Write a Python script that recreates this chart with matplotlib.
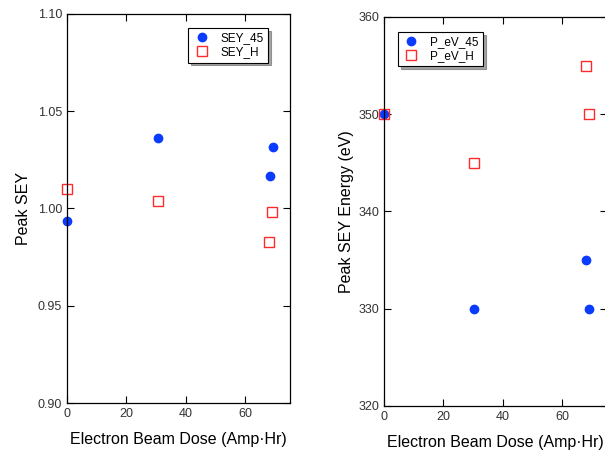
import matplotlib
matplotlib.use('Agg')
import matplotlib.pyplot as plt

plt.rcParams['font.family'] = ['Liberation Sans', 'DejaVu Sans']

# left panel: peak SEY
dose_45 = [0, 30.5, 68.2, 69.2]
sey_45 = [0.9936, 1.0365, 1.0166, 1.0315]
dose_h = [0, 30.5, 68.0, 69.0]
sey_h = [1.0098, 1.0041, 0.9830, 0.9981]

# right panel: peak SEY energy
pev_dose_45 = [0, 30.4, 68.1, 69.1]
pev_45 = [350, 330, 335, 330]
pev_dose_h = [0, 30.4, 68.0, 69.1]
pev_h = [350, 345, 355, 350]

blue = '#0a3cff'
red = '#ff2a2a'

fig = plt.figure(figsize=(6.05, 4.51), dpi=100)
W, H = 605, 451
ax1 = fig.add_axes([67 / W, (H - 403) / H, 223 / W, 389 / H])
ax2 = fig.add_axes([384 / W, (H - 406) / H, 222.5 / W, 389 / H])


def style(ax):
    ax.tick_params(direction='in', top=True, right=True, length=5,
                   labelsize=9, labelcolor='#333333', width=0.8)
    for s in ax.spines.values():
        s.set_linewidth(0.9)
    ax.set_xlabel('Electron Beam Dose (Amp·Hr)', fontsize=11.5, labelpad=9)


ax1.plot(dose_45, sey_45, 'o', color=blue, ms=6, label='SEY_45', clip_on=False)
ax1.plot(dose_h, sey_h, 's', mfc='white', mec=red, mew=1, ms=7, label='SEY_H', clip_on=False)
ax1.set_xlim(0, 75)
ax1.set_ylim(0.90, 1.10)
ax1.set_xticks([0, 20, 40, 60])
ax1.set_yticks([0.90, 0.95, 1.00, 1.05, 1.10])
ax1.set_yticklabels(['0.90', '0.95', '1.00', '1.05', '1.10'])
ax1.set_ylabel('Peak SEY', fontsize=11.5, labelpad=5)
style(ax1)
leg = ax1.legend(loc='upper right', bbox_to_anchor=(0.928, 0.979), fontsize=8.5,
                 fancybox=False, shadow=True, edgecolor='black', framealpha=1,
                 handletextpad=0.8, borderpad=0.35, labelspacing=0.2, handlelength=1.6)
leg.get_frame().set_linewidth(0.8)

ax2.plot(pev_dose_45, pev_45, 'o', color=blue, ms=6, label='P_eV_45', clip_on=False)
ax2.plot(pev_dose_h, pev_h, 's', mfc='none', mec=red, mew=1, ms=7, label='P_eV_H', clip_on=False)
ax2.set_xlim(0, 75)
ax2.set_ylim(320, 360)
ax2.set_xticks([0, 20, 40, 60])
ax2.set_yticks([320, 330, 340, 350, 360])
ax2.set_ylabel('Peak SEY Energy (eV)', fontsize=11.5, labelpad=3)
style(ax2)
leg2 = ax2.legend(loc='upper left', bbox_to_anchor=(0.036, 0.977), fontsize=8.5,
                  fancybox=False, shadow=True, edgecolor='black', framealpha=1,
                  handletextpad=0.8, borderpad=0.35, labelspacing=0.2, handlelength=1.6)
leg2.get_frame().set_linewidth(0.8)

fig.savefig('out.png', dpi=100)
